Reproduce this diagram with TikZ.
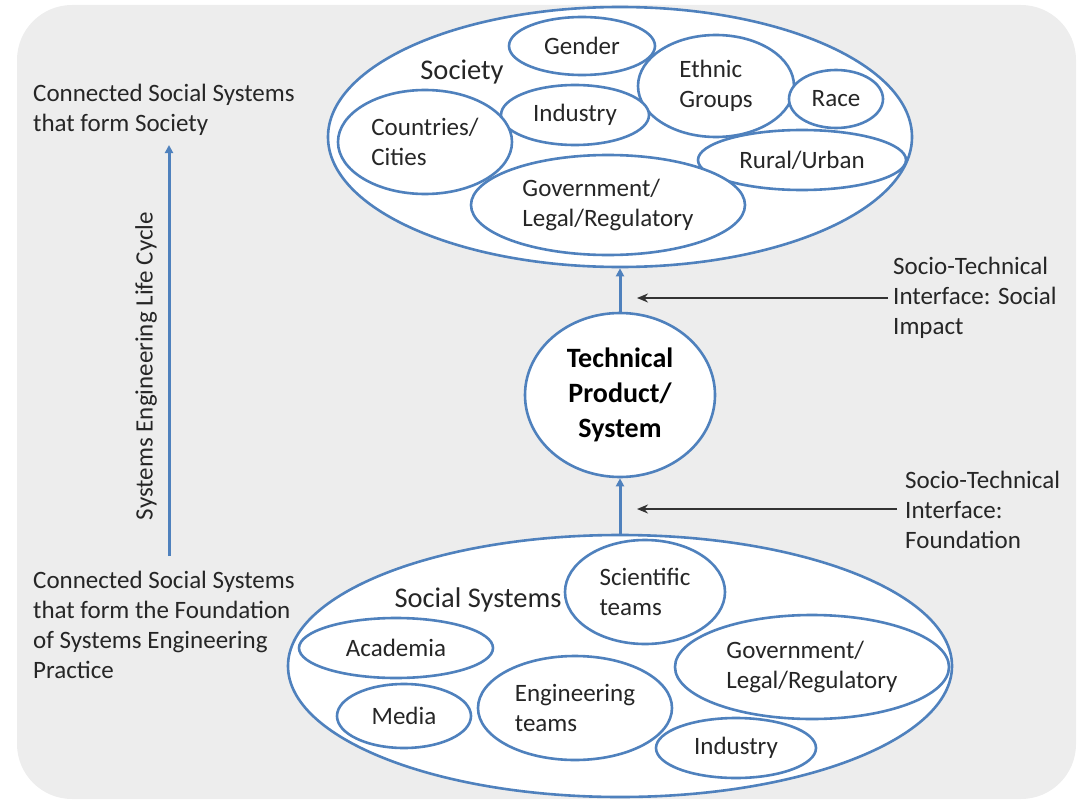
\documentclass[tikz,border=0pt]{standalone}
\usepackage{fontspec}
\setmainfont{Carlito}
\usetikzlibrary{shapes.geometric,arrows.meta}
\definecolor{ebl}{HTML}{4F81BD}
\definecolor{bgg}{HTML}{EDEDED}
\begin{document}
\begin{tikzpicture}[x=1pt,y=-1pt,
  ell/.style={draw=ebl, line width=2.6pt, fill=white, ellipse, inner sep=0pt, align=left,
              font=\fontsize{25}{30}\selectfont, text=black!85},
  big/.style={font=\fontsize{28.5}{30}\selectfont, text=black!85, inner sep=0pt},
  side/.style={font=\fontsize{25}{30}\selectfont, text=black!85, align=left, inner sep=0pt, anchor=west},
  barrow/.style={draw=ebl, line width=3pt, -{Triangle[length=8pt,width=8pt]}},
  karrow/.style={draw=black!80, line width=1.8pt, -{Stealth[length=11pt,width=9pt]}}]
\useasboundingbox (0,0) rectangle (1084,800);
\fill[bgg, rounded corners=55pt] (17,5) rectangle (1076,799);

% Society
\node[ell, minimum width=584, minimum height=260] (soc) at (620,137) {};
\node[big] (soclbl) at (462,72) {Society};
\node[ell, minimum width=146, minimum height=58] (gender) at (582,46) {Gender};
\node[ell, minimum width=156, minimum height=102] (ethnic) at (716,86) {Ethnic\\Groups};
\node[ell, minimum width=94, minimum height=58] (race) at (836,99) {Race};
\node[ell, minimum width=148, minimum height=60] (sindustry) at (575,115) {Industry};
\node[ell, minimum width=174, minimum height=104] (countries) at (425,142) {Countries/\\Cities};
\node[ell, minimum width=208, minimum height=60] (rural) at (802,160) {Rural/Urban};
\node[ell, minimum width=274, minimum height=100] (sgov) at (608,205) {Government/\\Legal/Regulatory};

% Technical product
\node[ell, minimum width=190, minimum height=164, align=center,
      font=\fontsize{28}{35}\selectfont\bfseries, text=black] (tp) at (620,395) {Technical\\Product/\\System};

% Social systems
\node[ell, minimum width=664, minimum height=262] (ss) at (620,666) {};
\node[big] (sslbl) at (478,600) {Social Systems};
\node[ell, minimum width=160, minimum height=104] (sci) at (645,592) {Scientific\\teams};
\node[ell, minimum width=194, minimum height=60] (acad) at (396,648) {Academia};
\node[ell, minimum width=274, minimum height=104] (fgov) at (812,667) {Government/\\Legal/Regulatory};
\node[ell, minimum width=134, minimum height=64] (media) at (404,716) {Media};
\node[ell, minimum width=194, minimum height=104] (eng) at (575,708) {Engineering\\teams};
\node[ell, minimum width=160, minimum height=60] (findustry) at (736,748) {Industry};

% connectors between levels
\draw[barrow] (tp.north) -- (soc.south);
\draw[barrow] (ss.north) -- (tp.south);

% interface labels
\node[side] (impact) at (893,298) {Socio-Technical\\Interface: Social\\Impact};
\node[side] (found) at (905,510) {Socio-Technical\\Interface:\\Foundation};
\coordinate (impacttip) at (637,298);
\coordinate (foundtip) at (637,509);
\draw[karrow] ([xshift=-5pt]impact.west) -- (impacttip);
\draw[karrow] ([xshift=-8pt]found.west |- foundtip) -- (foundtip);

% left side
\node[side] (toptext) at (33,110) {Connected Social Systems\\that form Society};
\node[side] (bottext) at (33,625) {Connected Social Systems\\that form the Foundation\\of Systems Engineering\\Practice};
\coordinate (lcbot) at (169,556);
\coordinate (lctop) at (169,145);
\draw[barrow] (lcbot) -- (lctop);
\node[font=\fontsize{25}{28}\selectfont, text=black!85, rotate=90, inner sep=0pt] (lclbl) at (146,366) {Systems Engineering Life Cycle};
\end{tikzpicture}
\end{document}
